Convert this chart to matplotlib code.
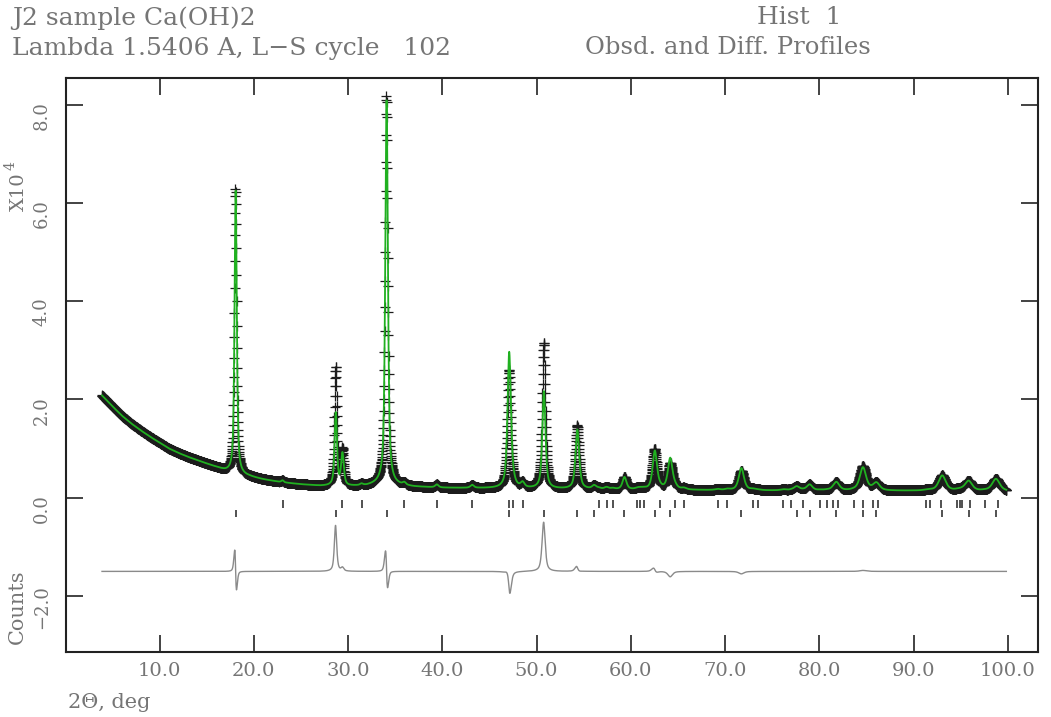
import matplotlib
matplotlib.use('Agg')
import matplotlib.pyplot as plt
import matplotlib.transforms as mtrans
import numpy as np

# intensities are in units of 10^4 counts
# background knots (2theta, intensity)
bg_tth = [3.9, 5, 6, 7, 8, 9, 10, 11, 12, 13, 14, 15, 16, 17, 18, 19.5, 21, 23, 25, 27,
          30, 32, 33.5, 35, 37, 40, 45, 50, 55, 60, 70, 80, 90, 100]
bg_int = [2.08, 1.86, 1.67, 1.51, 1.37, 1.24, 1.12, 1.00, 0.91, 0.83, 0.76, 0.69, 0.62, 0.54, 0.47,
          0.43, 0.37, 0.31, 0.27, 0.24, 0.23, 0.24, 0.28, 0.25, 0.22, 0.20, 0.19, 0.18, 0.17, 0.16,
          0.15, 0.14, 0.14, 0.13]

# Ca(OH)2 reflections
cah_pos = [18.08, 28.70, 34.09, 47.10, 50.78, 54.33, 56.10, 59.33, 62.55, 64.18, 71.73,
           77.60, 78.97, 81.80, 84.63, 86.05, 93.04, 95.83, 98.73]
cah_calc = [5.78, 1.48, 7.84, 2.71, 1.98, 1.21, 0.07, 0.25, 0.78, 0.63, 0.45,
            0.08, 0.12, 0.16, 0.45, 0.14, 0.30, 0.19, 0.24]
cah_obs = [5.82, 2.40, 7.90, 2.35, 2.97, 1.29, 0.07, 0.25, 0.82, 0.52, 0.40,
           0.08, 0.12, 0.16, 0.47, 0.14, 0.30, 0.19, 0.24]
cah_fwhm = [0.28, 0.30, 0.33, 0.42, 0.40, 0.46, 0.50, 0.50, 0.55, 0.58, 0.65,
            0.70, 0.70, 0.75, 0.80, 0.80, 0.90, 0.90, 0.95]
cah_shift = [-0.015, -0.01, -0.012, -0.02, -0.01, -0.01, 0, 0, -0.02, 0, 0,
             0, 0, 0, 0, 0, 0, 0, 0]

# CaCO3 (calcite) reflections
cal_pos = [23.05, 29.41, 31.43, 35.97, 39.42, 43.17, 47.13, 47.51, 48.52, 56.58, 57.43, 58.10,
           60.69, 60.98, 61.38, 63.07, 64.69, 65.64, 69.22, 70.25, 72.96, 73.52, 76.17, 77.02,
           78.30, 80.10, 80.77, 81.41, 81.94, 83.64, 84.63, 85.66, 86.27, 91.33, 91.76, 92.93,
           94.60, 94.88, 95.16, 95.94, 97.53, 98.95]
cal_calc = [0.04, 0.65, 0.03, 0.05, 0.06, 0.06, 0.05, 0.08, 0.10, 0.02, 0.04, 0.02,
            0.02, 0.02, 0.02, 0.03, 0.05, 0.03, 0.02, 0.02, 0.02, 0.01, 0.02, 0.01,
            0.01, 0.01, 0.01, 0.01, 0.01, 0.01, 0.02, 0.01, 0.01, 0.01, 0.01, 0.01,
            0.01, 0.01, 0.01, 0.01, 0.01, 0.01]
cal_obs = list(cal_calc)
cal_obs[1] = 0.72

tth_start, tth_end, tth_step = 3.9, 99.86, 0.02
diff_offset = -1.5
cal_tick_rows = (-0.05, -0.21)
cah_tick_rows = (-0.25, -0.40)


def pseudo_voigt(x, pos, height, fwhm, eta=0.65):
    d = (x - pos) / (fwhm / 2.0)
    return height * (eta / (1 + d * d) + (1 - eta) * np.exp(-np.log(2) * d * d))


tth = np.arange(tth_start, tth_end, tth_step)
background = np.interp(tth, bg_tth, bg_int)
calc = background.copy()
obs = background.copy()
for p, hc, ho, w, s in zip(cah_pos, cah_calc, cah_obs, cah_fwhm, cah_shift):
    calc += pseudo_voigt(tth, p, hc, w)
    obs += pseudo_voigt(tth, p + s, ho, w)
for p, hc, ho in zip(cal_pos, cal_calc, cal_obs):
    w = 0.26 + 0.007 * (p - 18)
    calc += pseudo_voigt(tth, p, hc, w)
    obs += pseudo_voigt(tth, p, ho, w)
diff = obs - calc + diff_offset

tc = '#757575'
fnt = 'DejaVu Serif'

fig = plt.figure(figsize=(10.51, 7.17), dpi=100)
ax = fig.add_axes([66 / 1051, 1 - 652 / 717, (1038 - 66) / 1051, (652 - 78) / 717])

ax.plot(tth, obs, '+', color='#1c1c1c', markersize=7.5, markeredgewidth=0.9, zorder=2)
ax.plot(tth, calc, '-', color='#20b020', lw=1.3, zorder=3)
ax.plot(tth, diff, '-', color='#8a8a8a', lw=1.0, zorder=3)
ax.vlines(cal_pos, cal_tick_rows[1], cal_tick_rows[0], color='#333333', lw=1.2)
ax.vlines(cah_pos, cah_tick_rows[1], cah_tick_rows[0], color='#333333', lw=1.2)

ax.set_xlim(0.08, 103.2)
ax.set_ylim(-3.14, 8.54)
ax.set_xticks(np.arange(10, 101, 10))
ax.set_xticklabels(['%.1f' % v for v in np.arange(10, 101, 10)])
ax.set_yticks(np.arange(-2, 9, 2))
ax.set_yticklabels(['%.1f' % v if v >= 0 else '\u2212%.1f' % -v for v in np.arange(-2, 9, 2)])

for sp in ax.spines.values():
    sp.set_linewidth(1.5)
    sp.set_color('#222222')
ax.tick_params(direction='in', length=12, width=1.2, color='#222222',
               top=True, right=True, labelcolor=tc)
ax.tick_params(axis='x', pad=7, labelsize=14)
ax.tick_params(axis='y', pad=11, labelsize=13)
for lab in ax.get_xticklabels():
    lab.set_family(fnt)
off = mtrans.ScaledTranslation(0, -11 / 100, fig.dpi_scale_trans)
for lab in ax.get_yticklabels():
    lab.set_family(fnt)
    lab.set_rotation(90)
    lab.set_va('center')
    lab.set_transform(lab.get_transform() + off)

fig.text(12 / 1051, 1 - 18 / 717, 'J2 sample Ca(OH)2', ha='left', va='center',
         fontsize=18, family=fnt, color=tc)
fig.text(12 / 1051, 1 - 48 / 717, 'Lambda 1.5406 A, L\u2212S cycle   102', ha='left', va='center',
         fontsize=18, family=fnt, color=tc)
fig.text(757 / 1051, 1 - 18 / 717, 'Hist  1', ha='left', va='center',
         fontsize=18, family=fnt, color=tc)
fig.text(585 / 1051, 1 - 48 / 717, 'Obsd. and Diff. Profiles', ha='left', va='center',
         fontsize=17.5, family=fnt, color=tc)
fig.text(19 / 1051, 1 - 192 / 717, 'X10', rotation=90, ha='center', va='center',
         fontsize=14, family=fnt, color=tc)
fig.text(11 / 1051, 1 - 166 / 717, '4', rotation=90, ha='center', va='center',
         fontsize=10, family=fnt, color=tc)
fig.text(17 / 1051, 1 - 607 / 717, 'Counts', rotation=90, ha='center', va='center',
         fontsize=15, family=fnt, color=tc)
fig.text(68 / 1051, 1 - 702 / 717, '2\u0398, deg', ha='left', va='center',
         fontsize=15, family=fnt, color=tc)

fig.savefig('out.png', dpi=100)
